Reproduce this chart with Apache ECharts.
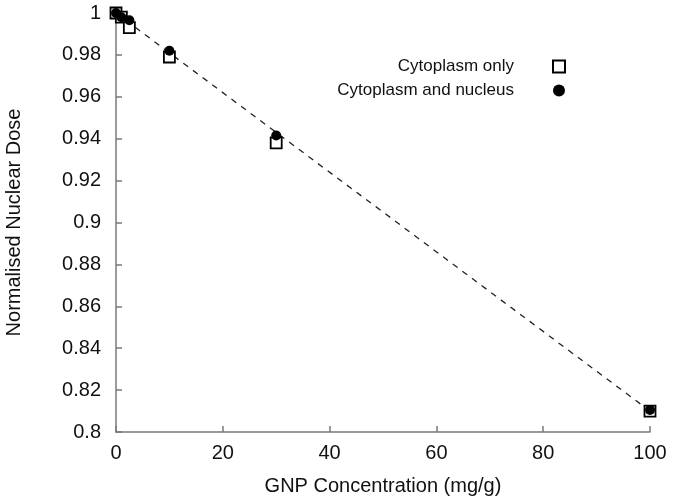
<!DOCTYPE html>
<html lang="en">
<head>
    <meta charset="UTF-8">
    <title>Normalised Nuclear Dose</title>
    <script type="text/javascript" src="https://cdn.jsdelivr.net/npm/echarts@6/dist/echarts.min.js"></script>
    <style>
        body { margin: 0; background: #fff; }
    </style>
</head>
<body>
<div id="chart" style="width: 675px;height: 503px"></div>
<script type="text/javascript">
    // GNP concentration (mg/g)
    var concentrations = [0, 1, 2.5, 10, 30, 100];
    var cytoOnly = [1.0, 0.998, 0.993, 0.979, 0.938, 0.810];
    var cytoNucleus = [1.0, 0.998, 0.9965, 0.982, 0.9415, 0.8105];
    // dashed fit line end points
    var fitX = [0, 100];
    var fitY = [1.0, 0.81];

    function pairs(xs, ys) {
        var out = [];
        for (var i = 0; i < xs.length; i++) {
            out.push([xs[i], ys[i]]);
        }
        return out;
    }

    var myChart = echarts.init(document.getElementById('chart'));
    var font = 'Liberation Sans, Arial, sans-serif';
    var axisGray = '#7a7a7a';

    option = {
        animation: false,
        grid: { left: 116, right: 25, top: 13, bottom: 71, outerBoundsMode: 'none', containLabel: false },
        legend: {
            orient: 'vertical',
            right: 104,
            top: 53,
            align: 'right',
            itemWidth: 12,
            itemHeight: 12,
            itemGap: 7,
            textStyle: { fontFamily: font, fontSize: 17, color: '#111', padding: [0, 34, 0, 0] },
            data: ['Cytoplasm only', 'Cytoplasm and nucleus']
        },
        xAxis: {
            type: 'value',
            min: 0,
            max: 100,
            interval: 20,
            name: 'GNP Concentration (mg/g)',
            nameLocation: 'middle',
            nameGap: 44,
            nameTextStyle: { fontFamily: font, fontSize: 20, color: '#111' },
            axisLine: { lineStyle: { color: axisGray, width: 1.5 } },
            axisTick: { inside: true, length: 6, lineStyle: { color: axisGray, width: 1.5 } },
            axisLabel: { fontFamily: font, fontSize: 20, color: '#111', margin: 11 },
            splitLine: { show: false }
        },
        yAxis: {
            type: 'value',
            min: 0.8,
            max: 1,
            interval: 0.02,
            name: 'Normalised Nuclear Dose',
            nameLocation: 'middle',
            nameGap: 92,
            nameTextStyle: { fontFamily: font, fontSize: 20, color: '#111' },
            axisLine: { show: true, lineStyle: { color: axisGray, width: 1.5 } },
            axisTick: { show: true, inside: true, length: 6, lineStyle: { color: axisGray, width: 1.5 } },
            axisLabel: {
                fontFamily: font, fontSize: 20, color: '#111', margin: 15,
                formatter: function (v) { return String(parseFloat(v.toFixed(2))); }
            },
            splitLine: { show: false }
        },
        series: [
            {
                name: 'fit',
                type: 'line',
                data: pairs(fitX, fitY),
                symbol: 'none',
                silent: true,
                lineStyle: { color: '#222', width: 1.3, type: [6, 6] },
                z: 1
            },
            {
                name: 'Cytoplasm only',
                type: 'scatter',
                data: pairs(concentrations, cytoOnly),
                symbol: 'rect',
                symbolSize: 11,
                clip: false,
                itemStyle: { color: '#fff', borderColor: '#000', borderWidth: 1.8, opacity: 1 },
                z: 2
            },
            {
                name: 'Cytoplasm and nucleus',
                type: 'scatter',
                data: pairs(concentrations, cytoNucleus),
                symbol: 'circle',
                symbolSize: 10,
                clip: false,
                itemStyle: { color: '#000', opacity: 1 },
                z: 3
            }
        ]
    };

    option && myChart.setOption(option);
</script>
</body>
</html>
